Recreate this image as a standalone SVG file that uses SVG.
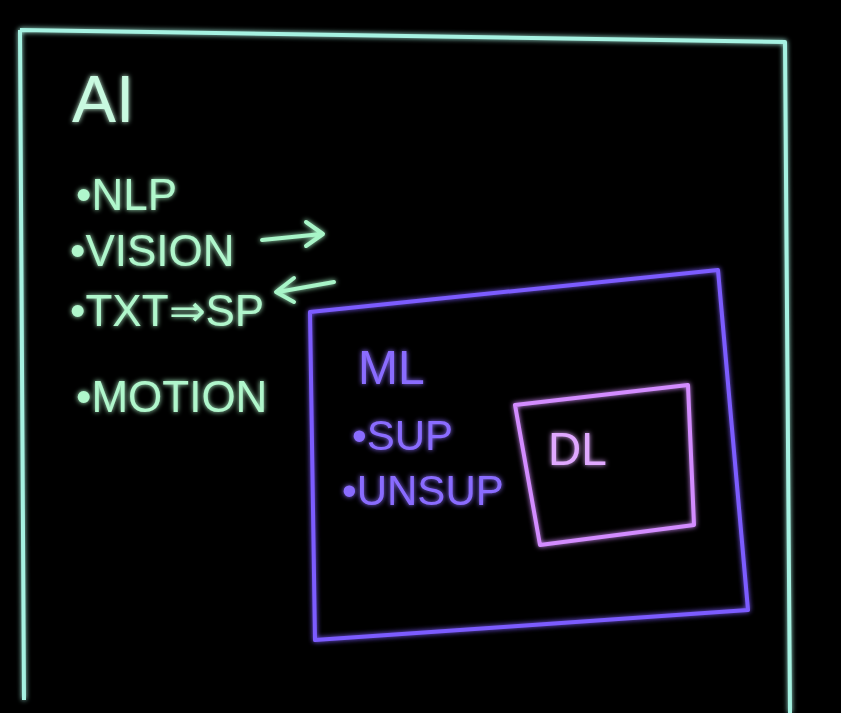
<svg xmlns="http://www.w3.org/2000/svg" width="841" height="713" viewBox="0 0 841 713">
<defs>
<filter id="glow" x="-10%" y="-10%" width="120%" height="120%">
<feGaussianBlur stdDeviation="2.5" result="b"/>
<feMerge><feMergeNode in="b"/><feMergeNode in="SourceGraphic"/></feMerge>
</filter>
</defs>
<style>
.ai{fill:none;stroke:#a6f2e2;stroke-width:4;stroke-linejoin:round}
.ml{fill:none;stroke:#7c5cff;stroke-width:4;stroke-linejoin:round}
.dl{fill:none;stroke:#d38cff;stroke-width:4;stroke-linejoin:round}
.g{fill:#b0f7cc;font-family:"Liberation Sans Narrow","Liberation Sans",sans-serif;font-size:44px}
.p{fill:#8a6cff;font-family:"Liberation Sans Narrow","Liberation Sans",sans-serif;font-size:42px}
.pk{fill:#e0a8ff;font-family:"Liberation Sans",sans-serif;font-size:46px}
.ar{fill:none;stroke:#a8f5c8;stroke-width:4;stroke-linecap:round;stroke-linejoin:round}
</style>
<rect width="841" height="713" fill="#000"/>
<g filter="url(#glow)">
<g id="ai">
<path class="ai" d="M20,30 L785,42 L790,713 M20,30 L24,700"/>
<text x="72" y="122" class="g" style="font-size:66px;fill:#c8fae0">AI</text>
<text x="76" y="210" class="g">•NLP</text>
<text x="70" y="266" class="g">•VISION</text>
<text x="70" y="326" class="g">•TXT⇒SP</text>
<text x="76" y="412" class="g">•MOTION</text>
</g>
<g id="connectors">
<path class="ar" d="M262,240 L322,234 M306,222 L323,234 L306,246"/>
<path class="ar" d="M334,282 L278,292 M294,278 L276,292 L294,302"/>
</g>
<g id="ml">
<path class="ml" d="M310,312 L718,270 L748,610 L315,640 Z"/>
<text x="358" y="384" class="p" style="font-size:48px">ML</text>
<text x="352" y="450" class="p">•SUP</text>
<text x="342" y="505" class="p">•UNSUP</text>
</g>
<g id="dl">
<path class="dl" d="M515,405 L688,385 L694,525 L540,545 Z"/>
<text x="548" y="465" class="pk">DL</text>
</g>
</g>
</svg>
